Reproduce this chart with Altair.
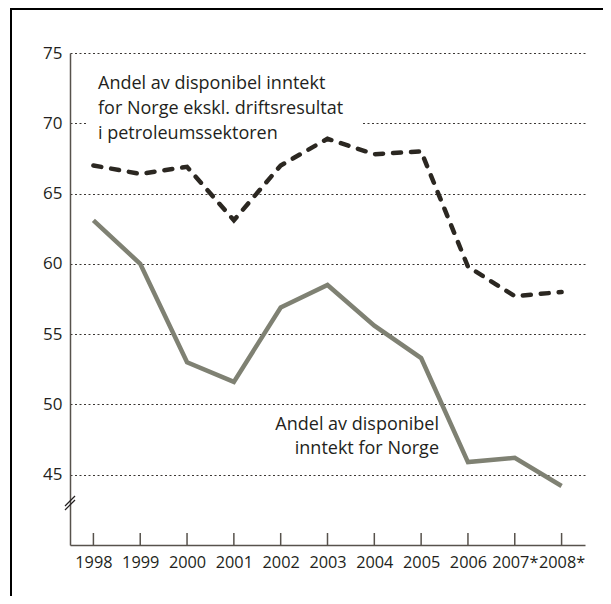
import altair as alt
import pandas as pd

years = ["1998", "1999", "2000", "2001", "2002", "2003", "2004", "2005", "2006", "2007*", "2008*"]
ekskl_petro = [67.0, 66.4, 66.9, 63.1, 67.0, 68.9, 67.8, 68.0, 59.8, 57.7, 58.0]
norge = [63.1, 60.0, 53.0, 51.6, 56.9, 58.5, 55.6, 53.3, 45.9, 46.2, 44.2]
y_ticks = [45, 50, 55, 60, 65, 70, 75]
label_upper = ["Andel av disponibel inntekt", "for Norge ekskl. driftsresultat", "i petroleumssektoren"]
label_lower = ["Andel av disponibel", "inntekt for Norge"]

FONT = "Open Sans"
TEXT = "#231f20"
AXIS = "#57524c"
W, H = 515, 492

df = pd.DataFrame({"year": years, "ekskl": ekskl_petro, "norge": norge})

xs = alt.Scale(type="point", domain=years, padding=0.5)
ys = alt.Scale(domain=[40, 75], nice=False, zero=False)

xenc = alt.X("year:N", scale=xs, sort=years,
             axis=alt.Axis(title=None, labelAngle=0, ticks=False, domain=True,
                           domainColor=AXIS, domainWidth=1.5, labelFont=FONT,
                           labelFontSize=16.3, labelColor=TEXT, labelPadding=9))
yaxis = alt.Axis(title=None, values=y_ticks, grid=True, gridDash=[2, 2.5], gridColor="#3a3633",
                 gridWidth=1, ticks=False, domain=True, domainColor=AXIS, domainWidth=1.5,
                 labelFont=FONT, labelFontSize=17, labelColor=TEXT, labelPadding=8)

one = pd.DataFrame({"a": [0]})

box = alt.Chart(one).mark_rect(color="white").encode(
    x=alt.value(18), x2=alt.value(293), y=alt.value(15), y2=alt.value(95))

base = alt.Chart(df)

grey = base.mark_line(color="#7f8173", strokeWidth=4.5).encode(
    x=xenc, y=alt.Y("norge:Q", scale=ys, axis=yaxis))

dashed = base.mark_line(color="#2b2721", strokeWidth=4.5, strokeDash=[8, 10],
                        strokeCap="round").encode(
    x=alt.X("year:N", scale=xs, sort=years), y=alt.Y("ekskl:Q", scale=ys))

ticks = base.mark_rule(color=AXIS, strokeWidth=1.5).encode(
    x=alt.X("year:N", scale=xs, sort=years), y=alt.value(H - 12), y2=alt.value(H))

txt_up = alt.Chart(one).mark_text(
    align="left", baseline="alphabetic", font=FONT, fontSize=18, color=TEXT,
    lineHeight=25).encode(x=alt.value(28), y=alt.value(36), text=alt.value(label_upper))

txt_low = alt.Chart(one).mark_text(
    align="right", baseline="alphabetic", font=FONT, fontSize=18, color=TEXT,
    lineHeight=24).encode(x=alt.value(369), y=alt.value(377), text=alt.value(label_lower))

brk1 = alt.Chart(one).mark_rule(color=TEXT, strokeWidth=1.2).encode(
    x=alt.value(-5), x2=alt.value(5), y=alt.value(453), y2=alt.value(443))
brk2 = alt.Chart(one).mark_rule(color=TEXT, strokeWidth=1.2).encode(
    x=alt.value(-5), x2=alt.value(5), y=alt.value(457), y2=alt.value(447))

border_left = alt.Chart(one).mark_rule(color="black", strokeWidth=2).encode(
    x=alt.value(-59), y=alt.value(-45), y2=alt.value(560))
border_top = alt.Chart(one).mark_rule(color="black", strokeWidth=2).encode(
    x=alt.value(-60), x2=alt.value(540), y=alt.value(-44))

chart = alt.layer(box, grey, dashed, ticks, txt_up, txt_low, brk1, brk2,
                  border_left, border_top).properties(
    width=W, height=H,
    autosize=alt.AutoSizeParams(type="none"),
    padding={"left": 62, "top": 45, "right": 18, "bottom": 51},
    background="white",
).configure_view(stroke=None)

chart.save("out.html", embed_options={"renderer": "svg", "actions": False})
